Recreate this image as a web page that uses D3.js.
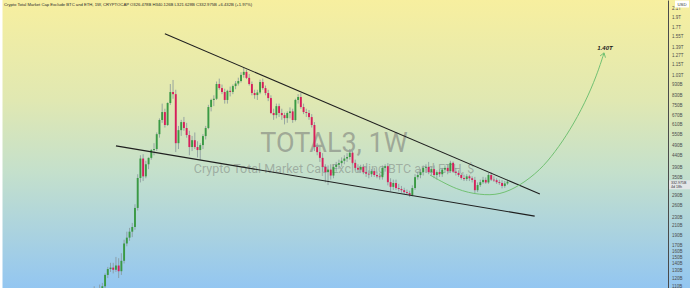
<!DOCTYPE html>
<html>
<head>
  <title>TOTAL3 1W</title>
  <script src="https://d3js.org/d3.v7.min.js"></script>
  <style>
    body { margin: 0; }
    svg { display: block; }
  </style>
</head>
<body>
<script type="text/javascript">

  var w = 690;
  var h = 288;
  var axisX = 668;

  // weekly candles, values in billions USD
  var opens = [75,78,82,80,85,88,86,92,96,94,99,97,102,105,110,124,132,134,131,137,
    129,144,173,184,196,206,252,346,425,352,400,428,465,470,550,639,695,606,765,859,
    840,500,574,625,587,545,480,516,480,465,490,539,587,733,790,800,935,896,859,790,
    870,860,915,940,965,1030,1063,998,935,850,832,855,955,896,850,806,688,673,740,688,
    673,652,688,700,639,790,815,733,695,688,659,606,480,455,428,389,368,378,355,389,
    398,405,415,425,432,452,406,385,378,389,368,362,360,372,357,352,349,385,392,331,
    315,328,311,308,304,298,295,289,311,349,357,368,385,389,368,380,357,368,360,378,
    385,372,406,370,365,357,346,342,352,345,339,304,321,331,339,330,357,340,338,331,
    328,318,326.47];
  var highs = [84,86,85,88,92,90,95,100,104,106,110,108,112,114,126,135,141,141,150,148,
    156,180,196,204,215,262,360,440,445,415,430,470,500,560,650,760,720,770,935,976,
    880,600,640,660,620,570,540,560,510,500,550,600,750,800,830,960,990,930,890,880,
    910,930,965,1000,1060,1108,1090,1040,960,880,880,980,990,920,880,830,720,760,760,720,
    690,700,730,720,800,840,850,760,720,710,680,625,500,480,450,400,395,400,400,410,
    420,430,440,450,470,460,420,400,398,400,392,375,380,385,370,365,395,400,405,345,
    340,340,325,318,312,306,302,320,360,370,380,395,400,410,390,395,375,380,385,395,
    400,415,412,385,375,365,358,360,358,352,350,330,340,350,348,365,368,352,345,340,
    338,335,340.13];
  var lows = [72,76,77,79,83,82,85,90,90,92,94,95,100,101,108,120,128,126,128,120,
    124,140,168,178,185,200,245,330,335,345,380,420,440,460,530,620,590,600,750,800,
    455,470,540,570,530,440,460,470,430,419,470,520,580,700,740,790,880,840,760,760,
    820,840,885,920,950,1000,985,920,830,800,790,840,880,830,780,680,640,650,660,640,
    610,620,650,620,630,760,720,680,660,640,590,460,440,410,370,330,321,340,345,370,
    380,390,400,410,420,400,375,368,365,360,350,345,350,350,345,340,340,370,320,300,
    305,305,300,296,292,290,283,285,305,340,345,355,365,360,355,345,340,350,350,365,
    360,365,365,355,350,340,335,335,335,330,295,298,315,325,325,325,335,332,325,322,
    310,312,321.63];
  var closes = [78,82,80,85,88,86,92,96,94,99,97,102,105,110,124,132,134,131,137,129,
    144,173,184,196,206,252,346,425,352,400,428,465,470,550,639,695,606,765,859,840,
    500,574,625,587,545,480,516,480,465,490,539,587,733,790,800,935,896,859,790,870,
    860,915,940,965,1030,1063,998,935,850,832,855,955,896,850,806,688,673,740,688,673,
    652,688,700,639,790,815,733,695,688,659,606,480,455,428,389,368,378,355,389,398,
    405,415,425,432,452,406,385,378,389,368,362,360,372,357,352,349,385,392,331,315,
    328,311,308,304,298,295,289,311,349,357,368,385,389,368,380,357,368,360,378,385,
    372,406,370,365,357,346,342,352,345,339,304,321,331,339,330,357,340,338,331,328,
    318,326.47,332.98];

  // price axis ticks
  var tickValues = [2100,1900,1700,1550,1390,1270,1150,1030,930,830,750,670,610,550,490,
    440,390,350,290,260,230,210,190,170,160,150,140,130,120,110];
  var tickLabels = ["2.1T","1.9T","1.7T","1.55T","1.39T","1.27T","1.15T","1.03T","930B","830B",
    "750B","670B","610B","550B","490B","440B","390B","350B","290B","260B","230B","210B",
    "190B","170B","160B","150B","140B","130B","120B","110B"];

  // drawings: [candle index, value]
  var upperLine = [[36, 1590], [173.9, 292]];
  var lowerLine = [[18, 486], [172, 231]];
  var projection = [[133.5,357],[143.4,304],[151.9,289],[159.2,289],[166.6,319],[174,376],
    [179.5,455],[185,574],[190.5,765],[194.9,1030],[197.5,1300]];
  var targetLabel = "1.40T";
  var lastPrice = 332.975;

  var svg = d3.select("body").append("svg")
          .attr("width", w)
          .attr("height", h);

  var defs = svg.append("defs");
  var grad = defs.append("linearGradient")
          .attr("id", "bg")
          .attr("x1", 0).attr("y1", 0).attr("x2", 0).attr("y2", 1);
  grad.append("stop").attr("offset", "0%").attr("stop-color", "#f7ef9f");
  grad.append("stop").attr("offset", "35%").attr("stop-color", "#e0e8b2");
  grad.append("stop").attr("offset", "60%").attr("stop-color", "#c4e0cc");
  grad.append("stop").attr("offset", "100%").attr("stop-color", "#93c6f1");

  defs.append("clipPath").attr("id", "pane")
          .append("rect").attr("x", 0).attr("y", 0).attr("width", axisX).attr("height", h);

  svg.append("rect")
          .attr("width", w)
          .attr("height", h)
          .attr("fill", "url(#bg)");
  svg.append("rect")
          .attr("width", 2.5)
          .attr("height", h)
          .attr("fill", "#ffffff");

  //Var Scales
  var xScale = d3.scaleLinear()
          .domain([0, closes.length - 1])
          .range([67, 507.5]);

  var yScale = d3.scaleLog()
          .domain([108, 2275])
          .range([h, 0]);

  // watermark
  svg.append("text")
          .attr("x", axisX / 2)
          .attr("y", 152)
          .attr("text-anchor", "middle")
          .attr("font-family", "Roboto, sans-serif")
          .attr("font-size", 27)
          .attr("fill", "rgba(110,110,110,0.5)")
          .text("TOTAL3, 1W");
  svg.append("text")
          .attr("x", axisX / 2)
          .attr("y", 173)
          .attr("text-anchor", "middle")
          .attr("font-family", "Roboto, sans-serif")
          .attr("font-size", 12.5)
          .attr("fill", "rgba(110,110,110,0.45)")
          .text("Crypto Total Market Cap Excluding BTC and ETH, $");

  var pane = svg.append("g").attr("clip-path", "url(#pane)");

  var candles = pane.selectAll("g.candle")
          .data(closes)
          .enter()
          .append("g")
          .attr("class", "candle");

  candles.append("line")
          .attr("x1", function(d, i){ return xScale(i); })
          .attr("x2", function(d, i){ return xScale(i); })
          .attr("y1", function(d, i){ return yScale(highs[i]); })
          .attr("y2", function(d, i){ return yScale(lows[i]); })
          .attr("stroke", "#86969a")
          .attr("stroke-width", 0.8);

  candles.append("rect")
          .attr("x", function(d, i){ return xScale(i) - 0.95; })
          .attr("width", 1.9)
          .attr("y", function(d, i){ return yScale(Math.max(opens[i], d)); })
          .attr("height", function(d, i){
            return Math.max(0.8, Math.abs(yScale(opens[i]) - yScale(d)));
          })
          .attr("fill", function(d, i){
            return d >= opens[i] ? "#3a9a44" : "#d81e5b";
          });

  // trendlines
  var line = d3.line()
          .x(function(d){ return xScale(d[0]); })
          .y(function(d){ return yScale(d[1]); });

  [upperLine, lowerLine].forEach(function(pts){
    svg.append("path")
            .attr("d", line(pts))
            .attr("fill", "none")
            .attr("stroke", "#1f1f1f")
            .attr("stroke-width", 1.1);
  });

  // projected path + arrow
  var curve = d3.line()
          .x(function(d){ return xScale(d[0]); })
          .y(function(d){ return yScale(d[1]); })
          .curve(d3.curveBasis);

  svg.append("path")
          .attr("d", curve(projection))
          .attr("fill", "none")
          .attr("stroke", "#72c173")
          .attr("stroke-width", 1);

  var tip = projection[projection.length - 1];
  var prev = projection[projection.length - 2];
  var tx = xScale(tip[0]), ty = yScale(tip[1]);
  var ang = Math.atan2(ty - yScale(prev[1]), tx - xScale(prev[0]));
  [-0.6, 0.6].forEach(function(a){
    svg.append("line")
            .attr("x1", tx).attr("y1", ty)
            .attr("x2", tx - 5 * Math.cos(ang + a))
            .attr("y2", ty - 5 * Math.sin(ang + a))
            .attr("stroke", "#72c173")
            .attr("stroke-width", 1);
  });

  svg.append("text")
          .attr("x", tx + 1)
          .attr("y", ty - 3)
          .attr("text-anchor", "middle")
          .attr("font-family", "Liberation Sans, Arial, sans-serif")
          .attr("font-size", 6)
          .attr("font-weight", "bold")
          .attr("font-style", "italic")
          .attr("fill", "#1a1a1a")
          .text(targetLabel);

  // price axis
  var axis = d3.axisRight(yScale)
          .tickValues(tickValues)
          .tickFormat(function(d, i){ return tickLabels[i]; })
          .tickSize(0)
          .tickPadding(4);

  var gAxis = svg.append("g")
          .attr("transform", "translate(" + axisX + ",0)")
          .call(axis);
  gAxis.select(".domain").attr("stroke", "#4a4a4a").attr("stroke-width", 1);
  gAxis.selectAll("text")
          .attr("font-family", "Liberation Sans, Arial, sans-serif")
          .attr("font-size", 4.5)
          .attr("fill", "#4d4d4d");

  // last price tag
  var py = yScale(lastPrice);
  svg.append("rect")
          .attr("x", axisX + 1)
          .attr("y", py - 1.3)
          .attr("width", w - axisX - 1)
          .attr("height", 9)
          .attr("fill", "#e3e6e8");
  svg.append("text")
          .attr("x", axisX + 3)
          .attr("y", py + 2.6)
          .attr("font-family", "Liberation Sans, Arial, sans-serif")
          .attr("font-size", 3.6)
          .attr("fill", "#333")
          .text("332.975B");
  svg.append("text")
          .attr("x", axisX + 3)
          .attr("y", py + 6.9)
          .attr("font-family", "Liberation Sans, Arial, sans-serif")
          .attr("font-size", 3.6)
          .attr("fill", "#333")
          .text("4d 18h");

  // currency box
  svg.append("rect")
          .attr("x", 675)
          .attr("y", 0.5)
          .attr("width", 14)
          .attr("height", 7)
          .attr("fill", "#ffffff");
  svg.append("text")
          .attr("x", 682)
          .attr("y", 5.5)
          .attr("text-anchor", "middle")
          .attr("font-family", "Liberation Sans, Arial, sans-serif")
          .attr("font-size", 4.3)
          .attr("fill", "#333")
          .text("USD");

  // legend line
  svg.append("text")
          .attr("x", 4)
          .attr("y", 5.5)
          .attr("font-family", "Liberation Sans, Arial, sans-serif")
          .attr("font-size", 4.2)
          .attr("fill", "#2a2a2a")
          .text("Crypto Total Market Cap Exclude BTC and ETH, 1W, CRYPTOCAP  O326.478B  H340.126B  L321.628B  C332.975B  +6.432B (+1.97%)");

</script>
</body>
</html>
